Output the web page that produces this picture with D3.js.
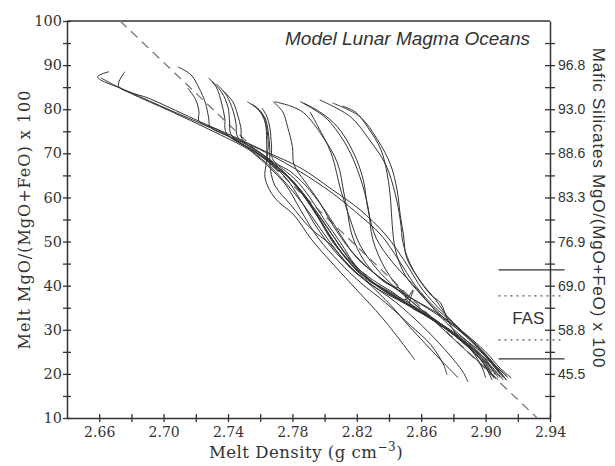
<!DOCTYPE html>
<html>
<head>
<meta charset="utf-8">
<script src="https://cdn.jsdelivr.net/npm/d3@7"></script>
<style>
    body { margin: 0; background: #fff; }
</style>
</head>
<body>
<div id="chart"></div>
<script>
// Crystallization paths, [melt density, melt Mg#]
var trunkRuns = [
    [[2.666,88.5],[2.659,87.3],[2.679,83.9],[2.704,79.8],[2.729,75.8],[2.754,71.5],[2.769,67.8],[2.782,64.0],[2.791,59.9],[2.800,54.9],[2.810,49.7],[2.819,44.7],[2.832,40.2],[2.847,36.8],[2.866,32.7],[2.881,29.3],[2.897,25.0],[2.906,21.3],[2.911,19.1]],
    [[2.676,88.5],[2.672,85.3],[2.692,82.3],[2.723,77.1],[2.743,73.9],[2.764,70.3],[2.785,66.7],[2.805,61.7],[2.822,57.2],[2.838,51.5],[2.850,45.4],[2.861,39.0],[2.872,34.5],[2.888,28.8],[2.902,23.6],[2.909,20.4]],
    [[2.661,87.1],[2.679,83.7],[2.704,79.6],[2.729,75.3],[2.753,70.8],[2.766,67.1],[2.777,62.8],[2.787,58.3],[2.797,53.1],[2.807,48.1],[2.818,43.6],[2.832,39.5],[2.850,35.9],[2.870,31.5],[2.886,27.2],[2.899,22.7],[2.905,19.1]],
    [[2.743,73.7],[2.764,70.1],[2.785,65.8],[2.804,61.2],[2.820,56.5],[2.835,51.5],[2.846,45.8],[2.856,40.2],[2.867,35.6],[2.881,31.1],[2.895,26.1],[2.906,21.6],[2.913,18.6]],
    [[2.754,70.6],[2.766,66.7],[2.776,62.8],[2.785,57.2],[2.796,50.8],[2.809,45.4],[2.822,40.8],[2.838,36.1],[2.853,31.1],[2.866,26.6],[2.874,22.0],[2.876,19.8]]
];

var leftArcRuns = [
    [[2.709,89.6],[2.717,87.8],[2.722,84.8],[2.726,81.4],[2.728,78.0],[2.729,76.0],[2.741,73.7],[2.754,71.0],[2.771,66.9],[2.783,62.6],[2.792,58.3],[2.802,53.1],[2.812,47.6],[2.822,43.1],[2.836,39.0],[2.853,35.4],[2.872,31.1],[2.888,27.2],[2.900,23.2],[2.906,19.8]],
    [[2.715,84.8],[2.720,82.1],[2.722,79.4],[2.722,77.3],[2.735,75.1],[2.754,70.8],[2.768,67.4],[2.779,64.0],[2.787,60.6],[2.796,56.0],[2.807,50.4],[2.817,45.4],[2.830,40.8],[2.844,37.4],[2.863,33.4],[2.878,29.5],[2.891,25.4],[2.898,21.3],[2.900,19.1]],
    [[2.728,87.1],[2.733,84.8],[2.736,81.4],[2.738,78.0],[2.739,74.6],[2.757,70.3],[2.773,66.2],[2.785,61.7],[2.794,56.7],[2.804,51.0],[2.813,46.3],[2.825,41.7],[2.841,38.3],[2.860,34.0],[2.876,30.0],[2.891,25.9],[2.903,21.6],[2.909,19.3]],
    [[2.730,86.4],[2.736,83.9],[2.740,80.5],[2.741,77.1],[2.742,74.2],[2.760,69.6],[2.776,64.4],[2.785,59.4],[2.797,52.2],[2.810,46.3],[2.825,41.3],[2.844,36.3],[2.860,31.1],[2.875,25.4],[2.886,20.4],[2.889,18.2]],
    [[2.733,85.7],[2.739,83.2],[2.743,79.8],[2.745,76.7],[2.746,73.7],[2.761,69.9],[2.774,65.8],[2.786,60.8],[2.796,55.4],[2.805,49.9],[2.816,45.4],[2.830,41.3],[2.842,38.6],[2.850,36.8],[2.855,39.0],[2.853,35.6],[2.869,32.2],[2.884,27.7],[2.897,23.2],[2.903,19.8]],
    [[2.737,84.2],[2.743,81.7],[2.746,78.7],[2.748,75.8],[2.749,73.0],[2.763,69.2],[2.777,64.9],[2.788,59.9],[2.798,54.4],[2.808,48.8],[2.819,44.0],[2.833,39.9],[2.850,36.1],[2.869,31.8],[2.886,27.2],[2.898,22.7],[2.904,18.6]]
];

var midArcRuns = [
    [[2.752,81.7],[2.759,79.8],[2.763,77.1],[2.764,73.0],[2.764,68.5],[2.763,64.4],[2.769,59.9],[2.781,56.0],[2.792,50.4],[2.804,45.4],[2.816,40.6],[2.837,32.2],[2.856,23.2]],
    [[2.755,81.2],[2.761,79.2],[2.764,75.8],[2.765,71.9],[2.765,68.1],[2.776,65.1],[2.786,61.2],[2.795,56.3],[2.804,50.8],[2.814,45.8],[2.827,41.5],[2.845,37.7],[2.865,33.1],[2.881,28.6],[2.895,24.1],[2.903,20.4],[2.908,18.6]],
    [[2.758,80.3],[2.763,78.0],[2.765,74.9],[2.766,70.8],[2.766,67.4],[2.769,62.8],[2.779,58.3],[2.791,53.1],[2.804,49.2],[2.816,44.0],[2.827,40.6],[2.841,35.6],[2.853,30.6],[2.872,23.2],[2.883,19.1]],
    [[2.761,80.3],[2.764,78.5],[2.766,75.8],[2.767,71.9],[2.768,68.5],[2.779,65.8],[2.788,62.8],[2.800,57.2],[2.810,51.5],[2.820,46.3],[2.835,41.7],[2.853,37.4],[2.875,32.2],[2.891,27.7],[2.903,23.2],[2.913,18.6]],
    [[2.768,81.7],[2.774,79.4],[2.777,76.0],[2.780,71.5],[2.781,67.4],[2.788,63.5],[2.796,59.4],[2.805,53.8],[2.816,48.1],[2.830,43.1],[2.847,38.6],[2.869,34.0],[2.886,29.5],[2.900,25.0],[2.909,21.3],[2.916,19.1]]
];

var rightArcRuns = [
    [[2.769,81.7],[2.779,80.7],[2.787,79.2],[2.799,73.7],[2.808,67.8],[2.812,61.0],[2.814,57.2],[2.817,51.5],[2.825,45.4],[2.838,40.6],[2.848,39.0],[2.852,36.3],[2.866,32.7],[2.881,28.8],[2.896,24.3],[2.904,20.4]],
    [[2.785,81.7],[2.794,79.8],[2.802,77.6],[2.814,71.5],[2.822,64.6],[2.827,57.8],[2.830,50.4],[2.838,43.6],[2.850,37.9],[2.866,32.7],[2.884,26.6],[2.900,21.3],[2.906,19.1]],
    [[2.787,81.4],[2.797,79.4],[2.808,76.0],[2.818,70.1],[2.824,64.0],[2.827,57.2],[2.832,50.8],[2.842,45.4],[2.855,40.2],[2.863,36.8],[2.875,31.8],[2.891,26.6],[2.903,22.0],[2.911,18.6]],
    [[2.791,79.4],[2.796,76.0],[2.804,70.1],[2.810,61.7],[2.812,59.4],[2.816,54.9],[2.822,49.2],[2.832,44.0],[2.844,39.5],[2.858,35.2],[2.875,30.6],[2.891,26.1],[2.902,22.0],[2.908,19.1]],
    [[2.797,82.1],[2.816,78.3],[2.828,73.0],[2.838,67.4],[2.844,60.6],[2.847,54.9],[2.849,49.2],[2.855,43.6],[2.866,37.9],[2.872,36.1],[2.877,31.8],[2.884,28.1],[2.897,24.3],[2.909,20.9],[2.914,19.1]],
    [[2.805,81.4],[2.822,78.3],[2.833,73.0],[2.841,67.4],[2.845,61.7],[2.847,56.0],[2.849,51.5],[2.851,46.3],[2.860,40.8],[2.869,36.8],[2.878,32.2],[2.891,27.7],[2.904,22.7],[2.913,19.5]],
    [[2.811,80.7],[2.819,79.4],[2.827,75.8],[2.835,70.8],[2.839,65.1],[2.841,59.4],[2.842,53.8],[2.844,48.1],[2.850,42.4],[2.860,37.9],[2.872,33.4],[2.888,28.4],[2.901,23.6],[2.909,20.0]]
];

// dashed reference line
var trendLine = [[2.673, 100], [2.932, 10]];

// FAS band on the right
var fasSolid = [43.6, 23.4];
var fasDotted = [37.7, 27.7];
var fasRange = [2.908, 2.949];

// ticks
var xMajor = [2.66, 2.70, 2.74, 2.78, 2.82, 2.86, 2.90, 2.94];
var xMinor = [2.68, 2.72, 2.76, 2.80, 2.84, 2.88, 2.92];
var yMajor = [10, 20, 30, 40, 50, 60, 70, 80, 90, 100];
var yMinor = [15, 25, 35, 45, 55, 65, 75, 85, 95];
var rightMajor = [20, 30, 40, 50, 60, 70, 80, 90];
var rightLabels = ["45.5", "58.8", "69.0", "76.9", "83.3", "88.6", "93.0", "96.8"];

var width = 615, height = 466;
var margin = {top: 21, right: 65, bottom: 48, left: 67};
var ink = "#333";

var svg = d3.select("#chart").append("svg")
    .attr("width", width)
    .attr("height", height);

var x = d3.scaleLinear().domain([2.64, 2.94]).range([margin.left, width - margin.right]);
var y = d3.scaleLinear().domain([10, 100]).range([height - margin.bottom, margin.top]);

// ticks that cross the axis line
function crossTicks(g, vertical, half) {
    g.selectAll(".tick line")
        .attr(vertical ? "y1" : "x1", -half)
        .attr(vertical ? "y2" : "x2", half);
    g.select(".domain").attr("stroke", ink).attr("stroke-width", 1.5);
    g.selectAll(".tick line").attr("stroke", ink).attr("stroke-width", 1.3);
}

// bottom axis
var gx = svg.append("g")
    .attr("transform", "translate(0," + y(10) + ")")
    .call(d3.axisBottom(x).tickValues(xMajor).tickFormat(d3.format(".2f")).tickSizeInner(4).tickSizeOuter(0).tickPadding(5));
crossTicks(gx, true, 4);
gx.selectAll("text").attr("font-family", "DejaVu Serif").attr("font-size", 14).attr("fill", ink);
var gx2 = svg.append("g")
    .attr("transform", "translate(0," + y(10) + ")")
    .call(d3.axisBottom(x).tickValues(xMinor).tickFormat("").tickSizeInner(4).tickSizeOuter(0));
crossTicks(gx2, true, 4);
gx2.select(".domain").remove();

// left axis
var gy = svg.append("g")
    .attr("transform", "translate(" + x(2.64) + ",0)")
    .call(d3.axisLeft(y).tickValues(yMajor).tickFormat(d3.format("d")).tickSizeInner(4).tickSizeOuter(0).tickPadding(1));
crossTicks(gy, false, 4);
gy.selectAll("text").attr("font-family", "DejaVu Serif").attr("font-size", 14.5).attr("fill", ink);
var gy2 = svg.append("g")
    .attr("transform", "translate(" + x(2.64) + ",0)")
    .call(d3.axisLeft(y).tickValues(yMinor).tickFormat("").tickSizeInner(4).tickSizeOuter(0));
crossTicks(gy2, false, 4);
gy2.select(".domain").remove();

// right axis (mafic silicate Mg#)
var gr = svg.append("g")
    .attr("transform", "translate(" + x(2.94) + ",0)")
    .call(d3.axisRight(y).tickValues(rightMajor)
        .tickFormat(function (d, i) { return rightLabels[i]; })
        .tickSizeInner(5).tickSizeOuter(0).tickPadding(3));
crossTicks(gr, false, 5);
gr.selectAll("text").attr("font-family", "Liberation Sans").attr("font-size", 14).attr("fill", ink);
var gr2 = svg.append("g")
    .attr("transform", "translate(" + x(2.94) + ",0)")
    .call(d3.axisRight(y).tickValues(yMinor).tickFormat("").tickSizeInner(5).tickSizeOuter(0));
crossTicks(gr2, false, 5);
gr2.select(".domain").remove();

// top frame line
svg.append("line")
    .attr("x1", x(2.64)).attr("x2", x(2.94))
    .attr("y1", y(100)).attr("y2", y(100))
    .attr("stroke", ink).attr("stroke-width", 1.5);

// dashed line
svg.append("line")
    .attr("x1", x(trendLine[0][0])).attr("y1", y(trendLine[0][1]))
    .attr("x2", x(trendLine[1][0])).attr("y2", y(trendLine[1][1]))
    .attr("stroke", "#777").attr("stroke-width", 1.3)
    .attr("stroke-dasharray", "9,6");

// model runs
var line = d3.line()
    .x(function (d) { return x(d[0]); })
    .y(function (d) { return y(d[1]); })
    .curve(d3.curveCatmullRom.alpha(0.5));

var allRuns = trunkRuns.concat(leftArcRuns, midArcRuns, rightArcRuns);
svg.append("g").selectAll("path")
    .data(allRuns)
    .enter().append("path")
    .attr("d", line)
    .attr("fill", "none")
    .attr("stroke", "#333")
    .attr("stroke-width", 1);

// FAS band
svg.append("g").selectAll("line")
    .data(fasSolid)
    .enter().append("line")
    .attr("x1", x(fasRange[0])).attr("x2", x(fasRange[1]))
    .attr("y1", function (d) { return y(d); })
    .attr("y2", function (d) { return y(d); })
    .attr("stroke", ink).attr("stroke-width", 1.2);
svg.append("g").selectAll("line")
    .data(fasDotted)
    .enter().append("line")
    .attr("x1", x(fasRange[0])).attr("x2", x(fasRange[1]))
    .attr("y1", function (d) { return y(d); })
    .attr("y2", function (d) { return y(d); })
    .attr("stroke", "#555").attr("stroke-width", 1.2)
    .attr("stroke-dasharray", "2,4");
svg.append("text")
    .attr("x", x((fasRange[0] + 2.94) / 2) + 4)
    .attr("y", y((fasDotted[0] + fasDotted[1]) / 2))
    .attr("dy", "0.35em")
    .attr("text-anchor", "middle")
    .attr("font-family", "Liberation Sans")
    .attr("font-size", 17)
    .attr("fill", ink)
    .text("FAS");

// title
svg.append("text")
    .attr("x", 530).attr("y", 45)
    .attr("text-anchor", "end")
    .attr("font-family", "Liberation Sans")
    .attr("font-style", "italic")
    .attr("font-size", 19)
    .attr("fill", ink)
    .text("Model Lunar Magma Oceans");

// axis titles
svg.append("text")
    .attr("transform", "translate(30," + (margin.top + y.range()[0]) / 2 + ") rotate(-90)")
    .attr("text-anchor", "middle")
    .attr("font-family", "DejaVu Serif")
    .attr("font-size", 16)
    .attr("letter-spacing", "1px")
    .attr("fill", ink)
    .text("Melt MgO/(MgO+FeO) x 100");

svg.append("text")
    .attr("transform", "translate(593,208) rotate(90)")
    .attr("text-anchor", "middle")
    .attr("font-family", "Liberation Sans")
    .attr("font-size", 17)
    .attr("letter-spacing", "0.8px")
    .attr("fill", ink)
    .text("Mafic Silicates MgO/(MgO+FeO) x 100");

var xt = svg.append("text")
    .attr("x", 306).attr("y", 458)
    .attr("text-anchor", "middle")
    .attr("font-family", "DejaVu Serif")
    .attr("font-size", 16.5)
    .attr("letter-spacing", "0.5px")
    .attr("fill", ink);
xt.append("tspan").text("Melt Density (g cm");
xt.append("tspan").attr("dy", -7).attr("font-size", 12).text("\u22123");
xt.append("tspan").attr("dy", 7).text(")");
</script>
</body>
</html>
